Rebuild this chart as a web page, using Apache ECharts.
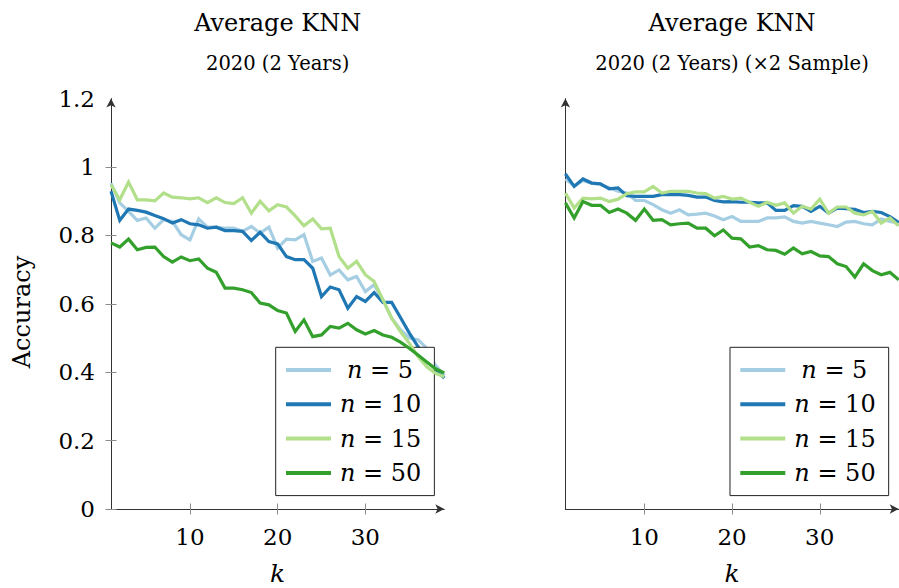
<!DOCTYPE html>
<html>
<head>
<meta charset="utf-8">
<title>Average KNN</title>
<script src="https://cdn.jsdelivr.net/npm/echarts@6/dist/echarts.min.js"></script>
<style>
  html, body { margin: 0; padding: 0; background: #ffffff; }
  #chart { width: 899px; height: 588px; }
</style>
</head>
<body>
<div id="chart"></div>
<script>
// Number of neighbours k on the horizontal axis
const kValues = [1, 2, 3, 4, 5, 6, 7, 8, 9, 10, 11, 12, 13, 14, 15, 16, 17, 18, 19, 20,
  21, 22, 23, 24, 25, 26, 27, 28, 29, 30, 31, 32, 33, 34, 35, 36, 37, 38, 39];

const seriesNames = ['n = 5', 'n = 10', 'n = 15', 'n = 50'];
const seriesColors = ['#a6cee3', '#1f78b4', '#b2df8a', '#33a02c'];

// Panel 1: 2020 (2 Years)
const left_n5 = [0.953, 0.895, 0.870, 0.844, 0.851, 0.821, 0.846, 0.841, 0.802, 0.787,
  0.848, 0.824, 0.824, 0.821, 0.821, 0.812, 0.826, 0.807, 0.824, 0.763,
  0.789, 0.787, 0.802, 0.724, 0.734, 0.684, 0.699, 0.670, 0.680, 0.636,
  0.656, 0.612, 0.558, 0.524, 0.500, 0.495, 0.470, 0.420, 0.390];
const left_n10 = [0.929, 0.844, 0.877, 0.873, 0.868, 0.858, 0.849, 0.836, 0.846, 0.834,
  0.831, 0.821, 0.824, 0.814, 0.814, 0.812, 0.785, 0.809, 0.782, 0.775,
  0.738, 0.729, 0.729, 0.704, 0.621, 0.649, 0.641, 0.587, 0.621, 0.607,
  0.633, 0.604, 0.604, 0.560, 0.515, 0.475, 0.442, 0.407, 0.383];
const left_n15 = [0.948, 0.904, 0.956, 0.904, 0.904, 0.901, 0.924, 0.912, 0.910, 0.907,
  0.910, 0.896, 0.910, 0.896, 0.893, 0.910, 0.865, 0.900, 0.872, 0.890,
  0.883, 0.857, 0.828, 0.848, 0.819, 0.821, 0.738, 0.704, 0.724, 0.685,
  0.665, 0.612, 0.558, 0.519, 0.485, 0.446, 0.416, 0.397, 0.387];
const left_n50 = [0.778, 0.766, 0.789, 0.758, 0.765, 0.766, 0.738, 0.722, 0.737, 0.726,
  0.731, 0.704, 0.692, 0.646, 0.646, 0.641, 0.633, 0.602, 0.597, 0.580,
  0.573, 0.519, 0.553, 0.504, 0.509, 0.534, 0.529, 0.543, 0.524, 0.512,
  0.522, 0.509, 0.502, 0.488, 0.470, 0.450, 0.430, 0.410, 0.398];

// Panel 2: 2020 (2 Years) (×2 Sample)
const right_n5 = [0.965, 0.945, 0.960, 0.953, 0.948, 0.939, 0.929, 0.924, 0.902, 0.902,
  0.890, 0.875, 0.865, 0.875, 0.860, 0.862, 0.865, 0.857, 0.846, 0.855,
  0.841, 0.841, 0.841, 0.851, 0.851, 0.854, 0.841, 0.836, 0.841, 0.836,
  0.831, 0.826, 0.839, 0.841, 0.834, 0.831, 0.848, 0.841, 0.836];
const right_n10 = [0.980, 0.943, 0.965, 0.953, 0.951, 0.936, 0.939, 0.916, 0.914, 0.914,
  0.914, 0.919, 0.919, 0.919, 0.917, 0.912, 0.912, 0.902, 0.898, 0.899,
  0.897, 0.897, 0.895, 0.895, 0.873, 0.873, 0.887, 0.885, 0.870, 0.885,
  0.865, 0.880, 0.878, 0.876, 0.867, 0.870, 0.867, 0.855, 0.838];
const right_n15 = [0.924, 0.880, 0.909, 0.907, 0.909, 0.899, 0.906, 0.922, 0.927, 0.927,
  0.943, 0.924, 0.929, 0.929, 0.929, 0.924, 0.922, 0.909, 0.914, 0.906,
  0.909, 0.897, 0.885, 0.897, 0.888, 0.895, 0.865, 0.885, 0.877, 0.906,
  0.865, 0.883, 0.883, 0.865, 0.860, 0.870, 0.836, 0.851, 0.828];
const right_n50 = [0.895, 0.851, 0.899, 0.888, 0.888, 0.867, 0.877, 0.865, 0.844, 0.877,
  0.844, 0.846, 0.831, 0.834, 0.836, 0.821, 0.821, 0.799, 0.816, 0.792,
  0.790, 0.766, 0.770, 0.758, 0.756, 0.745, 0.763, 0.746, 0.753, 0.740,
  0.738, 0.717, 0.709, 0.678, 0.717, 0.697, 0.685, 0.692, 0.670];

const xTickValues = [10, 20, 30];
const yTickValues = [0, 0.2, 0.4, 0.6, 0.8, 1];

const panelTitles = ['Average KNN', 'Average KNN'];
const panelSubtitles = ['2020 (2 Years)', '2020 (2 Years) (×2 Sample)'];
const panelSeries = [
  [left_n5, left_n10, left_n15, left_n50],
  [right_n5, right_n10, right_n15, right_n50]
];

const FONT = 'DejaVu Serif';
const AXIS_COLOR = '#333333';
const TICK_COLOR = '#8c8c8c';

// Plot rectangles
const gridBoxes = [
  { left: 111, top: 98.6, width: 333.3, height: 410.4 },
  { left: 565.4, top: 98.6, width: 333.3, height: 410.4 }
];

const chart = echarts.init(document.getElementById('chart'), null, { renderer: 'svg' });

const grids = [];
const xAxes = [];
const yAxes = [];
const series = [];
const titles = [];
const legends = [];

const legendRich = {
  p: { width: 4, fontFamily: FONT, fontSize: 24, lineHeight: 24 },
  q: { width: 11, fontFamily: FONT, fontSize: 24, lineHeight: 24 },
  i: { fontFamily: FONT, fontSize: 24, fontStyle: 'italic', color: '#000', lineHeight: 24 },
  t: { fontFamily: FONT, fontSize: 24, color: '#000', lineHeight: 24 }
};

// one-digit entries get extra lead space so the label sits centred
function legendLabel(name) {
  const value = name.split('= ')[1];
  const lead = value.length === 1 ? '{q|\u00a0}' : '{p|\u00a0}';
  return lead + '{i|n}{t| = ' + value + '}';
}

gridBoxes.forEach(function (box, p) {
  grids.push({
    left: box.left, top: box.top, width: box.width, height: box.height,
    containLabel: false, outerBoundsMode: 'none'
  });
  const cx = box.left + box.width / 2;

  titles.push({
    text: panelTitles[p],
    subtext: panelSubtitles[p],
    left: cx,
    top: 11,
    textAlign: 'center',
    padding: 0,
    itemGap: 18,
    textStyle: { fontFamily: FONT, fontSize: 24, fontWeight: 'normal', color: '#000' },
    subtextStyle: { fontFamily: FONT, fontSize: 19.5, color: '#000' }
  });

  // main horizontal axis with outer ticks, labels and arrow
  xAxes.push({
    type: 'value', gridIndex: p, position: 'bottom', min: 1, max: 39,
    name: 'k', nameLocation: 'middle', nameGap: 52,
    nameTextStyle: { fontFamily: FONT, fontSize: 25, lineHeight: 25, fontStyle: 'italic', color: '#000' },
    axisLine: { show: true, onZero: false, symbol: ['none', 'arrow'], symbolSize: [7, 9], lineStyle: { color: AXIS_COLOR, width: 1 } },
    axisTick: { show: true, length: 5.5, customValues: xTickValues, lineStyle: { color: TICK_COLOR } },
    axisLabel: { show: true, customValues: xTickValues, margin: 16, fontFamily: FONT, fontSize: 23, color: '#000' },
    splitLine: { show: false }
  });
  // companion axis that draws the inner half of the ticks
  xAxes.push({
    type: 'value', gridIndex: p, position: 'top', offset: -box.height, min: 1, max: 39,
    axisLine: { show: false, onZero: false },
    axisTick: { show: true, length: 5.5, customValues: xTickValues, lineStyle: { color: TICK_COLOR } },
    axisLabel: { show: false },
    splitLine: { show: false }
  });

  yAxes.push({
    type: 'value', gridIndex: p, position: 'left', min: 0, max: 1.2, interval: 0.2,
    axisLine: { show: true, onZero: false, symbol: ['none', 'arrow'], symbolSize: [7, 9], lineStyle: { color: AXIS_COLOR, width: 1 } },
    axisTick: { show: p === 0, length: 5.5, customValues: yTickValues, lineStyle: { color: TICK_COLOR } },
    axisLabel: { show: p === 0, margin: 16, fontFamily: FONT, fontSize: 23, color: '#000' },
    splitLine: { show: false }
  });
  if (p === 0) {
    yAxes.push({
      type: 'value', gridIndex: p, position: 'right', offset: -box.width, min: 0, max: 1.2, interval: 0.2,
      axisLine: { show: false, onZero: false },
      axisTick: { show: true, length: 5.5, customValues: yTickValues, lineStyle: { color: TICK_COLOR } },
      axisLabel: { show: false },
      splitLine: { show: false }
    });
  }

  const xIndex = p * 2;
  const yIndex = p === 0 ? 0 : 2;
  panelSeries[p].forEach(function (values, s) {
    series.push({
      name: seriesNames[s],
      type: 'line',
      xAxisIndex: xIndex,
      yAxisIndex: yIndex,
      data: kValues.map(function (k, i) { return [k, values[i]]; }),
      showSymbol: false,
      symbol: 'none',
      color: seriesColors[s],
      lineStyle: { width: 3.2, color: seriesColors[s], join: 'miter' },
      z: 2 + s
    });
  });

  legends.push({
    orient: 'vertical',
    left: p === 0 ? 275.7 : 730,
    top: 347.3,
    data: seriesNames,
    icon: 'rect',
    itemWidth: 45,
    itemHeight: 4,
    itemGap: 10.3,
    padding: [10.7, 13, 10.7, 10.3],
    borderColor: '#222222',
    borderWidth: 1,
    backgroundColor: '#ffffff',
    selectedMode: false,
    formatter: legendLabel,
    textStyle: { fontFamily: FONT, fontSize: 24, color: '#000', lineHeight: 24, rich: legendRich }
  });
});

chart.setOption({
  animation: false,
  backgroundColor: '#ffffff',
  title: titles,
  grid: grids,
  xAxis: xAxes,
  yAxis: yAxes,
  legend: legends,
  series: series,
  graphic: [{
    type: 'text',
    x: 22,
    y: 312,
    rotation: Math.PI / 2,
    style: {
      text: 'Accuracy',
      fontFamily: FONT,
      fontSize: 24,
      fill: '#000',
      align: 'center',
      verticalAlign: 'middle'
    }
  }]
});
</script>
</body>
</html>
